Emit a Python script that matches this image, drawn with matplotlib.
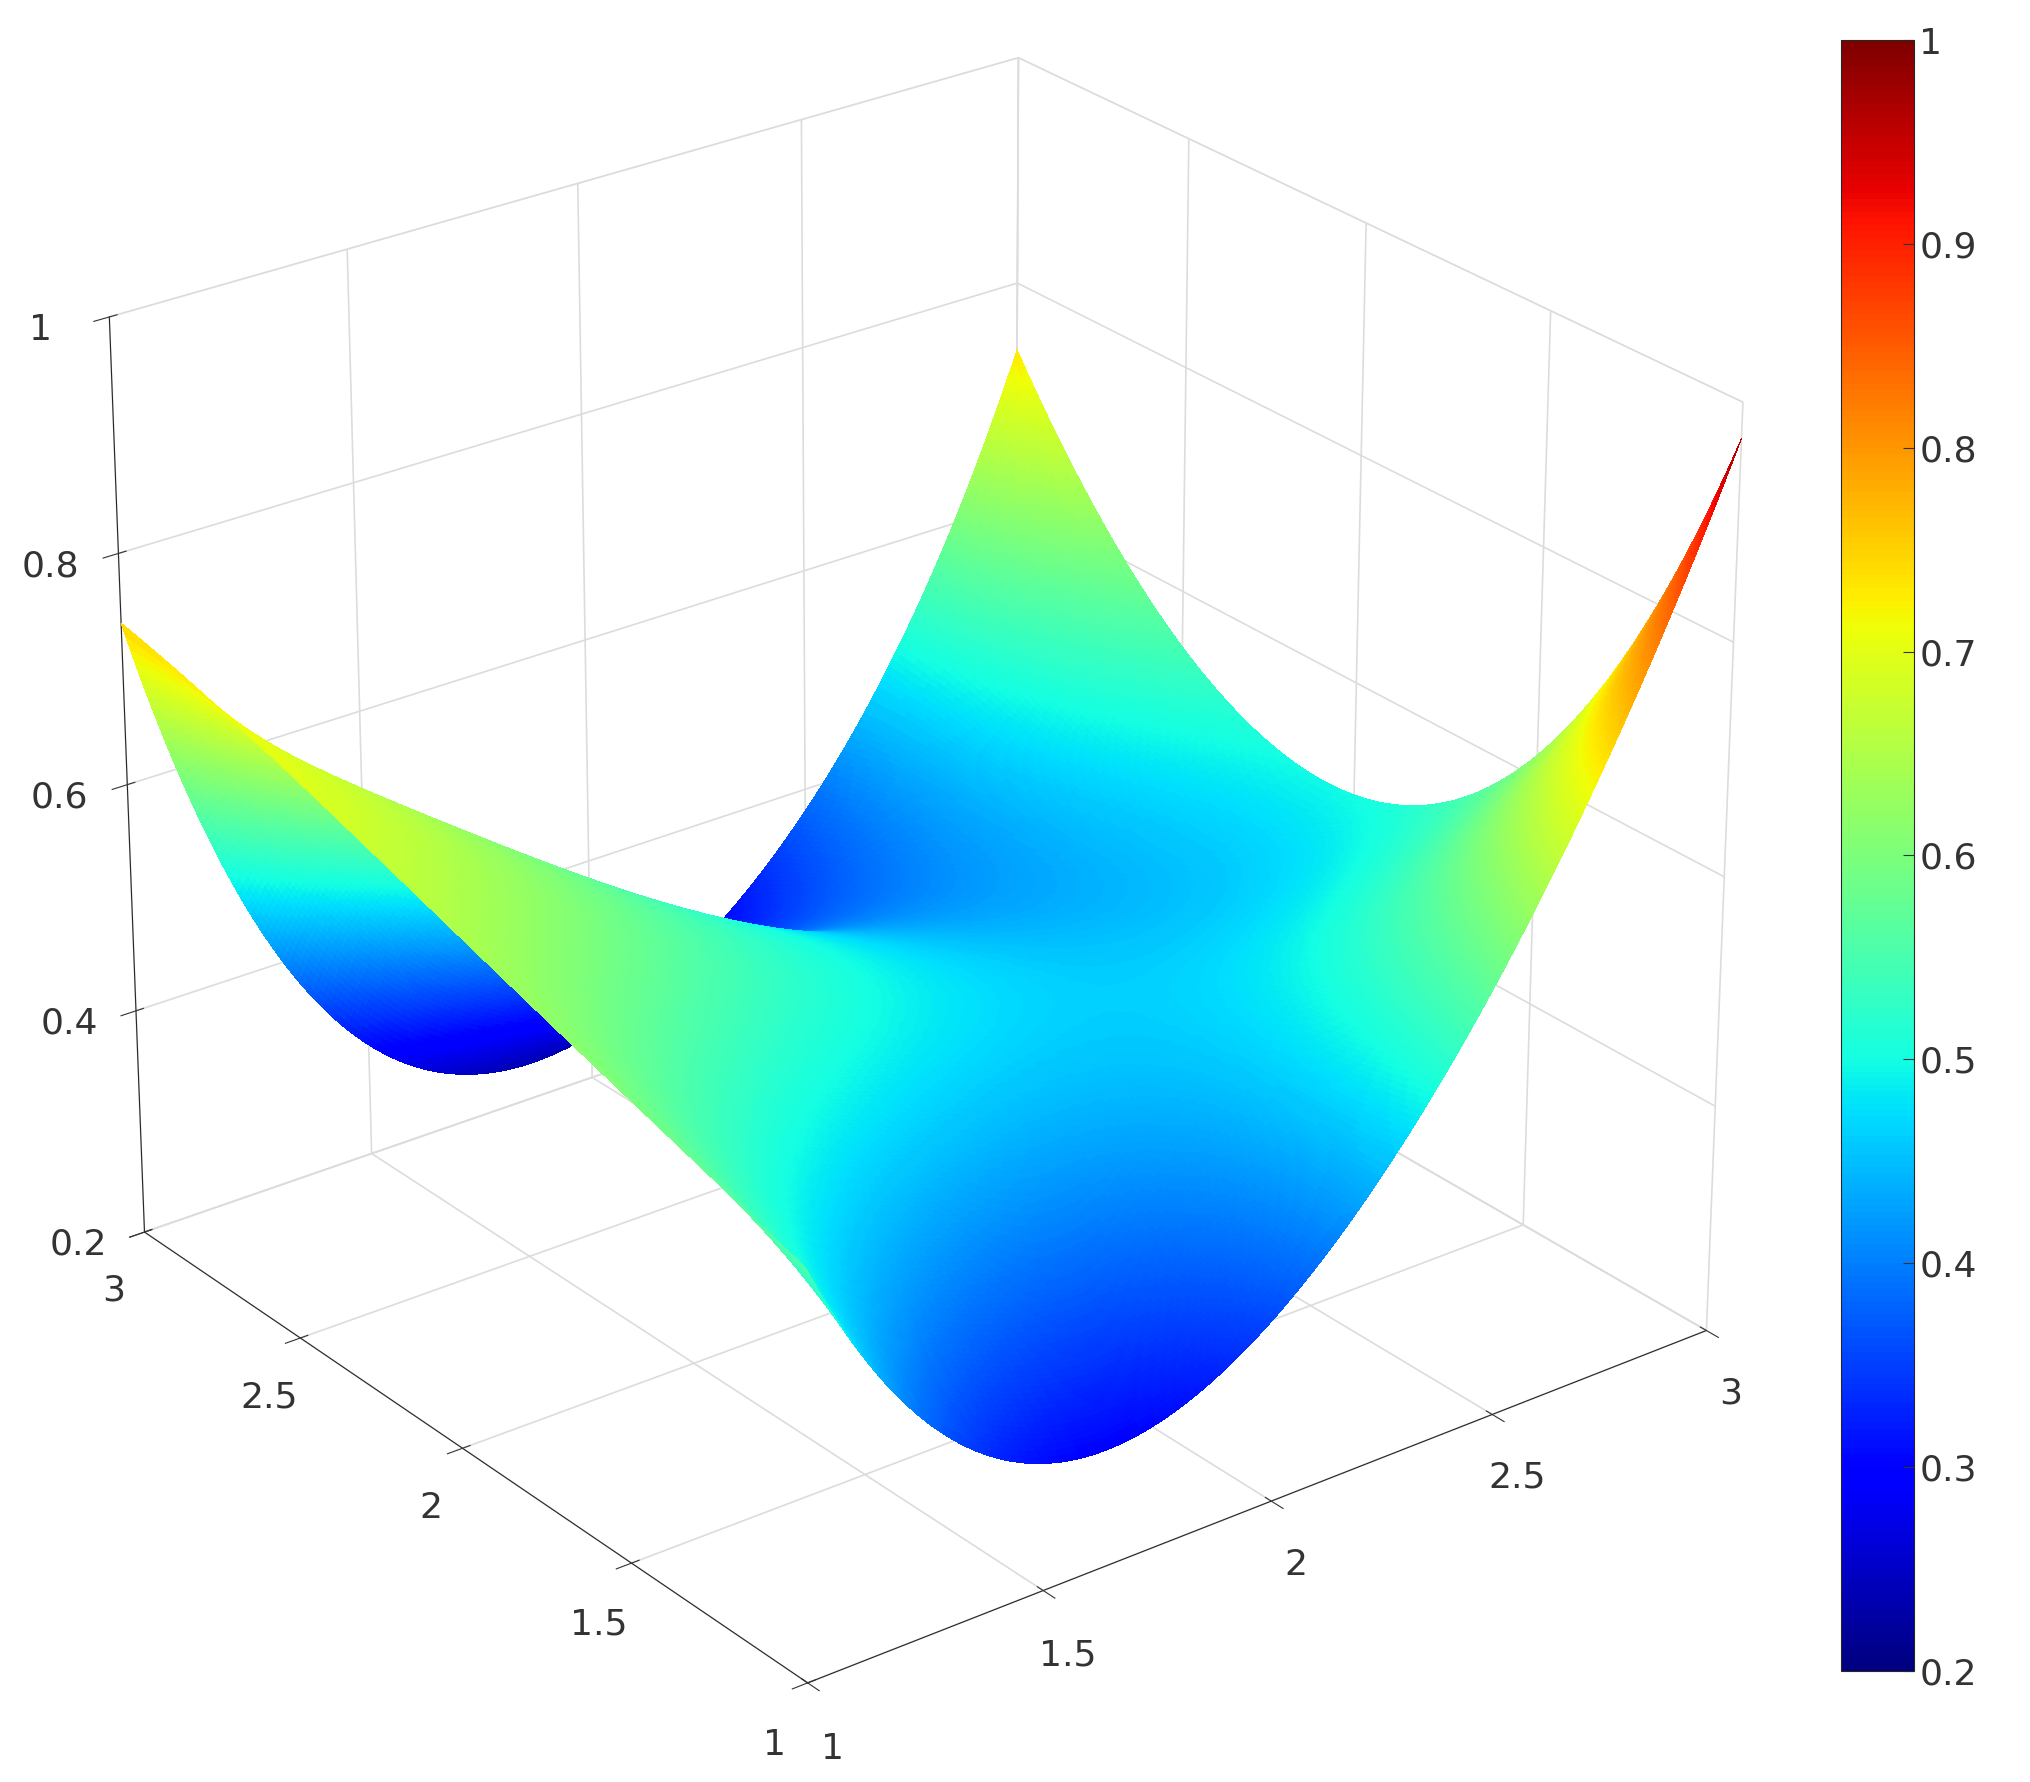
import matplotlib
matplotlib.use("Agg")
import matplotlib.pyplot as plt
import numpy as np
from matplotlib import cm, colors

# Heights on a 5x5 grid (rows: y = 1..3, cols: x = 1..3).
x_nodes = [1.0, 1.5, 2.0, 2.5, 3.0]
y_nodes = [1.0, 1.5, 2.0, 2.5, 3.0]
z_nodes = [
    [0.55, 0.31, 0.36, 0.59, 0.97],
    [0.60, 0.47, 0.44, 0.50, 0.62],
    [0.65, 0.56, 0.48, 0.45, 0.50],
    [0.70, 0.55, 0.42, 0.42, 0.55],
    [0.74, 0.30, 0.24, 0.38, 0.74],
]
x_ticks = [1, 1.5, 2, 2.5, 3]
z_ticks = [0.2, 0.4, 0.6, 0.8, 1]
cbar_ticks = [0.2, 0.3, 0.4, 0.5, 0.6, 0.7, 0.8, 0.9, 1]

# Smooth surface through the read nodes (exact bi-quartic through 25 points).
xn = np.array(x_nodes) - 2
yn = np.array(y_nodes) - 2
XN, YN = np.meshgrid(xn, yn)
V = np.polynomial.polynomial.polyvander2d(YN.ravel(), XN.ravel(), [4, 4])
coef = np.linalg.solve(V, np.array(z_nodes).ravel()).reshape(5, 5)
g = np.linspace(-1, 1, 240)
GX, GY = np.meshgrid(g, g)
Z = np.polynomial.polynomial.polyval2d(GY, GX, coef)
X, Y = GX + 2, GY + 2

fig = plt.figure(figsize=(20.30, 17.82), dpi=100)
ax = fig.add_axes([-0.04, 0.0, 0.96, 1.04], projection="3d")
norm = colors.Normalize(0.2, 1.0)
ax.plot_surface(X, Y, Z, facecolors=cm.jet(norm(Z)), rstride=1, cstride=1,
                linewidth=0, antialiased=False, shade=False)
ax.set_xlim(1, 3)
ax.set_ylim(1, 3)
ax.set_zlim(0.2, 1)
ax.set_xticks(x_ticks)
ax.set_yticks(x_ticks)
ax.set_zticks(z_ticks)
ax.set_xticklabels(["1", "1.5", "2", "2.5", "3"])
ax.set_yticklabels(["1", "1.5", "2", "2.5", "3"])
ax.set_zticklabels(["0.2", "0.4", "0.6", "0.8", "1"])
ax.tick_params(labelsize=26, colors="#333333")
ax.xaxis.set_tick_params(pad=16)
ax.yaxis.set_tick_params(pad=16)
ax.zaxis.set_tick_params(pad=22)
ax.view_init(elev=26, azim=-127.5)
ax.set_box_aspect((1, 1, 0.9))
for axis in (ax.xaxis, ax.yaxis, ax.zaxis):
    axis.pane.fill = False
    axis.pane.set_edgecolor("#d9d9d9")
    axis._axinfo["grid"]["color"] = "#dcdcdc"
    axis._axinfo["grid"]["linewidth"] = 1.2
    axis.line.set_color("#262626")

cax = fig.add_axes([0.907, 0.0625, 0.036, 0.915])
sm = cm.ScalarMappable(norm=norm, cmap="jet")
cb = fig.colorbar(sm, cax=cax, ticks=cbar_ticks)
cb.ax.set_yticklabels(["0.2", "0.3", "0.4", "0.5", "0.6", "0.7", "0.8", "0.9", "1"])
cb.ax.tick_params(labelsize=26, colors="#333333", direction="in", length=8)
cb.outline.set_edgecolor("#262626")

fig.savefig("out.png", dpi=100)
